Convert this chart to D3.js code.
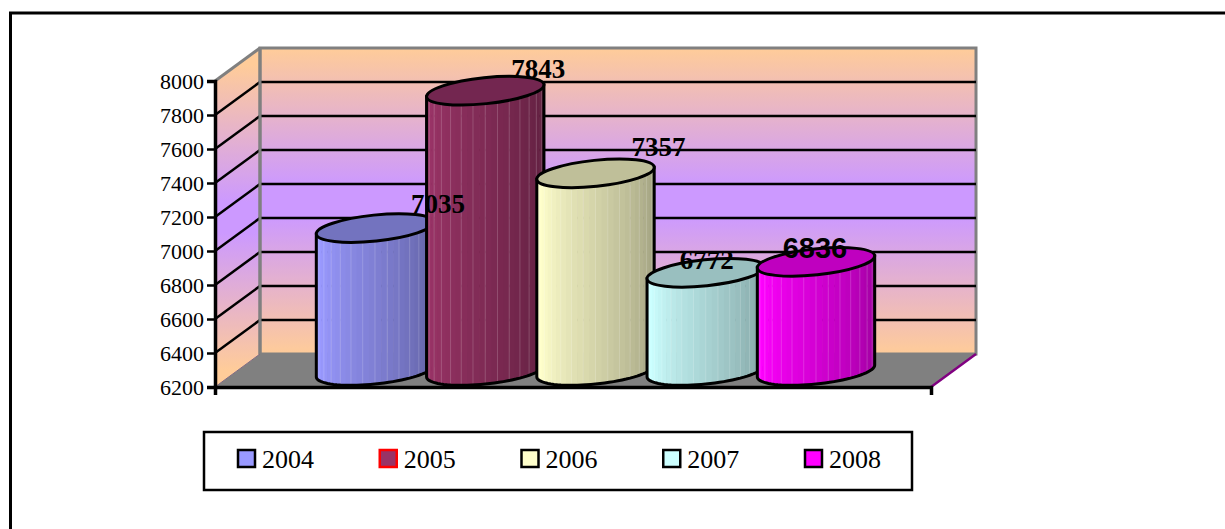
<!DOCTYPE html>
<html lang="en">
<head>
<meta charset="UTF-8"/>
<title>Cylinder chart 2004-2008</title>
<script src="https://d3js.org/d3.v7.min.js"></script>
<style>
  html, body { margin: 0; padding: 0; background: #fff; }
  svg { display: block; font-family: "Liberation Serif", serif; }
</style>
</head>
<body>
<script>
    var years = ["2004", "2005", "2006", "2007", "2008"];
    var values = [7035, 7843, 7357, 6772, 6836];
    var yTicks = [6200, 6400, 6600, 6800, 7000, 7200, 7400, 7600, 7800, 8000];

    var sideLight = ["#9999ff", "#993366", "#ffffcc", "#ccffff", "#ff00ff"];
    var sideDark = ["#5c5c99", "#5c1f3d", "#99997a", "#7a9999", "#990099"];
    var capColors = ["#7373bf", "#732650", "#bfbf99", "#99bfbf", "#bf00bf"];
    var legendEdge = ["#000", "#f00", "#000", "#000", "#000"];

    // these labels were dragged by hand in the original, so they sit off-centre
    var labelDx = [63, 53, 63, 1, -1];
    var labelDy = [-32, -30, -34, -21, -21];

    var width = 1225, height = 529;
    var plot = { left: 215, right: 931, top: 81, bottom: 387 };
    var depth = { x: 45, y: -33 };

    var yScale = d3.scaleLinear().domain([6200, 8000]).range([plot.bottom, plot.top]);
    var xScale = d3.scalePoint().domain(years).range([375, 816]);

    var svg = d3.select("body").append("svg")
                .attr("width", width)
                .attr("height", height);

    var defs = svg.append("defs");

    var wallStops = [[0, "#ffcc99"], [0.45, "#cc99ff"], [0.55, "#cc99ff"], [1, "#ffcc99"]];
    function wallGradient(id, y1, y2) {
        var g = defs.append("linearGradient").attr("id", id)
            .attr("gradientUnits", "userSpaceOnUse")
            .attr("x1", 0).attr("x2", 0).attr("y1", y1).attr("y2", y2);
        g.selectAll("stop").data(wallStops).enter().append("stop")
            .attr("offset", function(d) { return d[0]; })
            .attr("stop-color", function(d) { return d[1]; });
    }
    wallGradient("backWall", plot.top + depth.y, plot.bottom + depth.y);
    wallGradient("sideWall", plot.top + depth.y / 2, plot.bottom + depth.y / 2);

    // page frame, the right and bottom sides run off the page
    svg.append("path")
       .attr("d", d3.line()([[10.5, height + 5], [10.5, 13], [width + 5, 13]]))
       .attr("fill", "none").attr("stroke", "#000").attr("stroke-width", 3);

    var backLeft = plot.left + depth.x, backRight = plot.right + depth.x;
    var backTop = plot.top + depth.y, backBottom = plot.bottom + depth.y;

    function poly(points) { return d3.line()(points) + "Z"; }

    // left wall
    svg.append("path")
       .attr("d", poly([[plot.left, plot.top], [backLeft, backTop], [backLeft, backBottom], [plot.left, plot.bottom]]))
       .attr("fill", "url(#sideWall)");

    svg.append("path")
       .attr("d", d3.line()([[plot.left, plot.top], [backLeft, backTop]]))
       .attr("fill", "none").attr("stroke", "#808080").attr("stroke-width", 3);

    // back wall
    svg.append("rect")
       .attr("x", backLeft).attr("y", backTop)
       .attr("width", plot.right - plot.left).attr("height", plot.bottom - plot.top)
       .attr("fill", "url(#backWall)")
       .attr("stroke", "#808080").attr("stroke-width", 3);

    // floor
    svg.append("path")
       .attr("d", poly([[plot.left, plot.bottom], [backLeft, backBottom], [backRight, backBottom], [plot.right, plot.bottom]]))
       .attr("fill", "#808080");

    svg.append("path")
       .attr("d", d3.line()([[plot.right, plot.bottom], [backRight, backBottom]]))
       .attr("fill", "none").attr("stroke", "#800080").attr("stroke-width", 2.5);

    svg.append("path")
       .attr("d", d3.line()([[plot.left, plot.bottom], [backLeft, backBottom]]))
       .attr("fill", "none").attr("stroke", "#806a80").attr("stroke-width", 1);

    // grid, back wall and slanted part on the left wall
    var gridTicks = yTicks.slice(1);
    svg.selectAll(".grid-back").data(gridTicks).enter().append("line")
       .attr("class", "grid-back")
       .attr("x1", backLeft).attr("x2", backRight)
       .attr("y1", function(d) { return yScale(d) + depth.y; })
       .attr("y2", function(d) { return yScale(d) + depth.y; })
       .attr("stroke", function(d) { return d == 8000 ? "none" : "#000"; })
       .attr("stroke-width", 2.5);

    svg.selectAll(".grid-side").data(gridTicks).enter().append("line")
       .attr("class", "grid-side")
       .attr("x1", plot.left).attr("x2", backLeft)
       .attr("y1", function(d) { return yScale(d); })
       .attr("y2", function(d) { return yScale(d) + depth.y; })
       .attr("stroke", function(d) { return d == 8000 ? "none" : "#000"; })
       .attr("stroke-width", 2.5);

    svg.append("line")
       .attr("x1", backLeft).attr("x2", backLeft)
       .attr("y1", backTop).attr("y2", backBottom)
       .attr("stroke", "#808080").attr("stroke-width", 3);

    // cylinders
    var rx = 59, ry = 13, tiltDeg = -6, tilt = tiltDeg * Math.PI / 180;
    var baseY = plot.bottom - 16;
    var facets = d3.range(0, 30);

    function ellipsePoint(cx, cy, t) {
        var px = rx * Math.cos(t), py = ry * Math.sin(t);
        return [cx + px * Math.cos(tilt) - py * Math.sin(tilt),
                cy + px * Math.sin(tilt) + py * Math.cos(tilt)];
    }

    var tRight = Math.atan2(-ry * Math.sin(tilt), rx * Math.cos(tilt));

    function sidePath(cx, topY) {
        var pts = [ellipsePoint(cx, topY, tRight)];
        d3.range(0, 41).forEach(function(i) {
            pts.push(ellipsePoint(cx, baseY, tRight + Math.PI * i / 40));
        });
        pts.push(ellipsePoint(cx, topY, tRight + Math.PI));
        return poly(pts);
    }

    var bars = svg.selectAll(".bar").data(years).enter().append("g").attr("class", "bar");

    bars.each(function(year, i) {
        var g = d3.select(this);
        var cx = xScale(year);
        var topY = yScale(values[i]) - 17;
        var side = sidePath(cx, topY);
        var shade = d3.scaleLinear()
            .domain([0, 0.12, 1])
            .range([d3.interpolateRgb(sideLight[i], sideDark[i])(0.08), sideLight[i], sideDark[i]]);

        defs.append("clipPath").attr("id", "clip" + year)
            .append("path").attr("d", side);

        var clipped = g.append("g").attr("clip-path", "url(#clip" + year + ")");

        // flat facets around the drum, narrower towards both edges
        clipped.selectAll("rect").data(facets).enter().append("rect")
            .attr("x", function(d) {
                return cx - rx * Math.cos(Math.PI * d / facets.length);
            })
            .attr("width", function(d) {
                return rx * (Math.cos(Math.PI * d / facets.length) - Math.cos(Math.PI * (d + 1) / facets.length)) + 0.6;
            })
            .attr("y", topY - rx)
            .attr("height", baseY - topY + rx * 2)
            .attr("fill", function(d) { return shade((d + 0.5) / facets.length); });

        clipped.selectAll("line").data(facets.filter(function(d) { return d % 2 == 1; })).enter().append("line")
            .attr("x1", function(d) { return cx - rx * Math.cos(Math.PI * d / facets.length); })
            .attr("x2", function(d) { return cx - rx * Math.cos(Math.PI * d / facets.length); })
            .attr("y1", topY - rx)
            .attr("y2", baseY + rx)
            .attr("stroke", "#fff").attr("stroke-opacity", 0.18).attr("stroke-width", 1);

        g.append("path").attr("d", side)
            .attr("fill", "none").attr("stroke", "#000").attr("stroke-width", 3);

        g.append("ellipse")
            .attr("rx", rx).attr("ry", ry)
            .attr("transform", "translate(" + cx + "," + topY + ") rotate(" + tiltDeg + ")")
            .attr("fill", capColors[i])
            .attr("stroke", "#000").attr("stroke-width", 3);
    });

    // axes
    var yAxis = d3.axisLeft(yScale).tickValues(yTicks).tickSize(8).tickPadding(3).tickFormat(d3.format("d"));
    var yG = svg.append("g").attr("transform", "translate(" + plot.left + ",0)").call(yAxis);
    yG.select(".domain").attr("stroke-width", 3.5);
    yG.selectAll("line").attr("stroke-width", 2.5);
    yG.selectAll("text").attr("font-size", 22).attr("font-family", "Liberation Serif").attr("fill", "#000");

    var xBase = d3.scaleLinear().domain([0, 1]).range([plot.left, plot.right]);
    var xAxis = d3.axisBottom(xBase).tickValues([0, 1]).tickSize(8).tickFormat("");
    var xG = svg.append("g").attr("transform", "translate(0," + plot.bottom + ")").call(xAxis);
    xG.select(".domain").attr("stroke-width", 3.5);
    xG.selectAll("line").attr("stroke-width", 2.5);

    // value labels
    svg.selectAll(".value").data(values).enter().append("text")
       .attr("class", "value")
       .attr("x", function(d, i) { return xScale(years[i]) + labelDx[i]; })
       .attr("y", function(d, i) { return yScale(d) + labelDy[i]; })
       .attr("text-anchor", "middle")
       .attr("font-weight", "bold")
       .style("font-family", function(d, i) { return i == 4 ? "'Liberation Sans'" : "'Liberation Serif'"; })
       .attr("font-size", function(d, i) { return i == 4 ? 29 : 27; })
       .attr("fill", "#000")
       .text(function(d) { return d; });

    // legend
    svg.append("rect")
       .attr("x", 204).attr("y", 432).attr("width", 708).attr("height", 58)
       .attr("fill", "#fff").attr("stroke", "#000").attr("stroke-width", 2.5);

    var legendX = d3.scalePoint().domain(years).range([238, 805]);

    var legend = svg.selectAll(".legend").data(years).enter().append("g")
       .attr("class", "legend")
       .attr("transform", function(d) { return "translate(" + legendX(d) + ",450)"; });

    legend.append("rect")
       .attr("width", 17).attr("height", 17)
       .attr("fill", function(d, i) { return sideLight[i]; })
       .attr("stroke", function(d, i) { return legendEdge[i]; })
       .attr("stroke-width", 2.5);

    legend.append("text")
       .attr("x", 24).attr("y", 18)
       .attr("font-size", 26)
       .attr("fill", "#000")
       .text(function(d) { return d; });
</script>
</body>
</html>
